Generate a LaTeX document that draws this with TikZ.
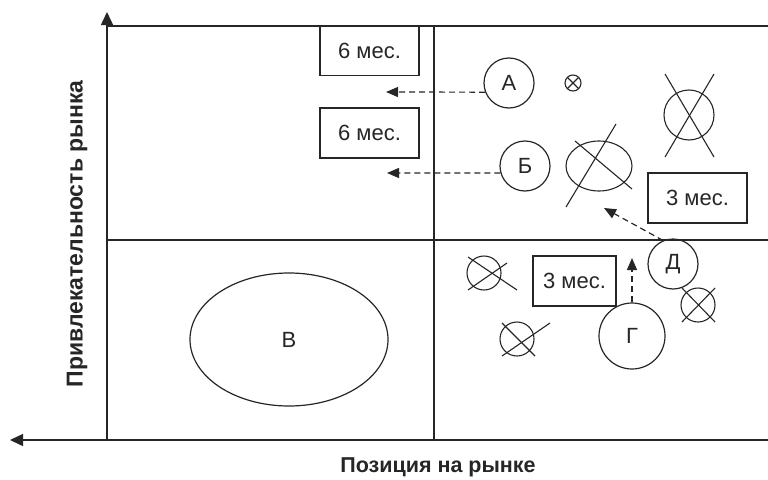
\documentclass[tikz,border=0pt]{standalone}
\usepackage{fontspec}
\setmainfont{Liberation Sans}
\usetikzlibrary{arrows.meta,shapes.geometric}

\tikzset{
	firm/.style={draw,circle,line width=1.2pt,inner sep=0pt,minimum size=50pt},
	term/.style={draw,rectangle,line width=1.2pt,inner sep=0pt,minimum width=99pt,minimum height=50pt},
	move/.style={line width=1.2pt,dash pattern=on 6pt off 4pt,-{Triangle[length=12pt,width=10pt]}},
	axis/.style={line width=1.4pt,-{Triangle[length=13pt,width=12pt]}},
	gone/.style={line width=1.1pt}
}

\begin{document}
\begin{tikzpicture}[x=1pt,y=-1pt,font=\fontsize{22}{24}\selectfont,black!85]
		{
			\def\gl{107}
			\def\gm{434}
			\def\gt{26}
			\def\gh{240}
			\def\gb{440}
			\useasboundingbox (0,0) rectangle (768,479);

			% axes and quadrants
			\coordinate (o) at (\gl,\gb);
			\coordinate (ytip) at (\gl,12);
			\coordinate (xtip) at (10,\gb);
			\coordinate (xend) at (768,\gb);
			\draw[axis] (o) -- (ytip);
			\draw[axis] (xend) -- (xtip);
			\draw[line width=1.4pt] (\gl,\gt) -- (768,\gt);
			\draw[line width=1.4pt] (\gl,\gh) -- (768,\gh);
			\draw[line width=1.4pt] (\gm,\gt) -- (\gm,\gb);

			\node[rotate=90,font=\fontsize{23}{26}\selectfont\bfseries] (ylab) at (77,234) {Привлекательность рынка};
			\node[font=\fontsize{21.5}{24}\selectfont\bfseries] (xlab) at (438,467) {Позиция на рынке};

			% terms
			\node[term] (t1) at (369.5,50.5) {6 мес.};
			\node[term] (t2) at (369.5,133) {6 мес.};
			\node[term] (t3) at (697.5,198) {3 мес.};
			\node[term,minimum width=83pt] (t4) at (574.5,281) {3 мес.};

			% firms
			\node[firm] (A) at (509,83) {А};
			\node[firm] (B) at (525,166) {Б};
			\node[firm] (D) at (673,264) {Д};
			\node[firm,minimum size=66pt] (G) at (632,336) {Г};
			\node[draw,ellipse,line width=1.2pt,minimum width=198pt,minimum height=133pt] (V) at (289,339.5) {В};

			% moves
			\coordinate (endA) at (386,92);
			\coordinate (endB) at (387,173);
			\coordinate (endD) at (604,208);
			\coordinate (endG) at (632,258);
			\draw[move] (A.201) -- (endA);
			\draw[move] (B.196) -- (endB);
			\draw[move] (D.113) -- (endD);
			\draw[move] (G.north) -- (endG);

			% dropped firms
			\foreach \cx/\cy/\r in {573/83/8, 689/115/25, 484/273/17, 517/339/17, 698/305/17}
			{
				\draw[gone] (\cx,\cy) circle (\r);
			}
			\draw[gone] (599,166) ellipse (33 and 25);
			\foreach \ax/\ay/\bx/\by in {567.5/77.5/578.5/88.5, 567.5/88.5/578.5/77.5,
				665/74/714/157, 714/74/665/157,
				468/257/517/290, 468/290/507/263,
				502/323/535/356, 502/356/550/323,
				682/288/715/322, 682/322/715/288,
				566/207/616/124, 575/141/632/189}
			{
				\draw[gone] (\ax,\ay) -- (\bx,\by);
			}
		}
	\end{tikzpicture}
\end{document}
